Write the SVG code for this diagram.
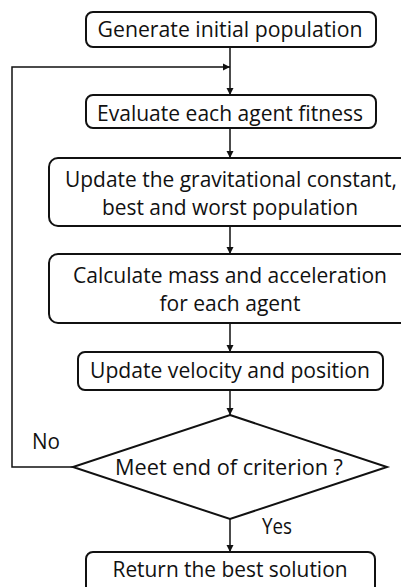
<svg xmlns="http://www.w3.org/2000/svg" width="401" height="587" viewBox="0 0 401 587">
<style>
.box{fill:#fff;stroke:#111;stroke-width:2}
.t{font-family:"Open Sans","Liberation Sans",sans-serif;font-size:21px;fill:#111;text-anchor:middle}
.l{font-family:"Open Sans","Liberation Sans",sans-serif;font-size:21px;fill:#111}
.c{fill:none;stroke:#111;stroke-width:1.5}
</style>
<defs>
<marker id="ah" markerWidth="8" markerHeight="8" refX="7" refY="4" orient="auto" markerUnits="userSpaceOnUse">
<path d="M0,0.5 L7,4 L0,7.5 Z" fill="#111"/>
</marker>
</defs>
<rect width="401" height="587" fill="#fff"/>
<g id="connectors">
<line class="c" x1="230" y1="47" x2="230" y2="95" marker-end="url(#ah)"/>
<polyline class="c" points="73,467 12,467 12,67 230,67" marker-end="url(#ah)"/>
<line class="c" x1="230" y1="128" x2="230" y2="158" marker-end="url(#ah)"/>
<line class="c" x1="230" y1="226" x2="230" y2="254" marker-end="url(#ah)"/>
<line class="c" x1="230" y1="323" x2="230" y2="352" marker-end="url(#ah)"/>
<line class="c" x1="230" y1="390" x2="230" y2="415" marker-end="url(#ah)"/>
<line class="c" x1="230" y1="519" x2="230" y2="552" marker-end="url(#ah)"/>
<text class="l" x="32" y="449" textLength="28" lengthAdjust="spacingAndGlyphs">No</text>
<text class="l" x="262" y="534" textLength="30" lengthAdjust="spacingAndGlyphs">Yes</text>
</g>
<g id="n1">
<rect class="box" x="86" y="12" width="290" height="35" rx="7"/>
<text class="t" x="230" y="37" textLength="265" lengthAdjust="spacingAndGlyphs">Generate initial population</text>
</g>
<g id="n2">
<rect class="box" x="86" y="95" width="290" height="33" rx="7"/>
<text class="t" x="230" y="121" textLength="266" lengthAdjust="spacingAndGlyphs">Evaluate each agent fitness</text>
</g>
<g id="n3">
<rect class="box" x="49" y="158" width="363" height="68" rx="9"/>
<text class="t" x="231" y="187" textLength="332" lengthAdjust="spacingAndGlyphs">Update the gravitational constant,</text>
<text class="t" x="230" y="215" textLength="256" lengthAdjust="spacingAndGlyphs">best and worst population</text>
</g>
<g id="n4">
<rect class="box" x="49" y="254" width="363" height="69" rx="9"/>
<text class="t" x="230" y="283" textLength="314" lengthAdjust="spacingAndGlyphs">Calculate mass and acceleration</text>
<text class="t" x="230" y="311" textLength="141" lengthAdjust="spacingAndGlyphs">for each agent</text>
</g>
<g id="n5">
<rect class="box" x="78" y="352" width="305" height="38" rx="7"/>
<text class="t" x="230" y="378" textLength="280" lengthAdjust="spacingAndGlyphs">Update velocity and position</text>
</g>
<g id="n6">
<polygon class="box" points="230,415 387,467 230,519 73,467"/>
<text class="t" x="229" y="475" textLength="228" lengthAdjust="spacingAndGlyphs">Meet end of criterion ?</text>
</g>
<g id="n7">
<rect class="box" x="86" y="552" width="289" height="42" rx="7"/>
<text class="t" x="230" y="577" textLength="235" lengthAdjust="spacingAndGlyphs">Return the best solution</text>
</g>
</svg>
